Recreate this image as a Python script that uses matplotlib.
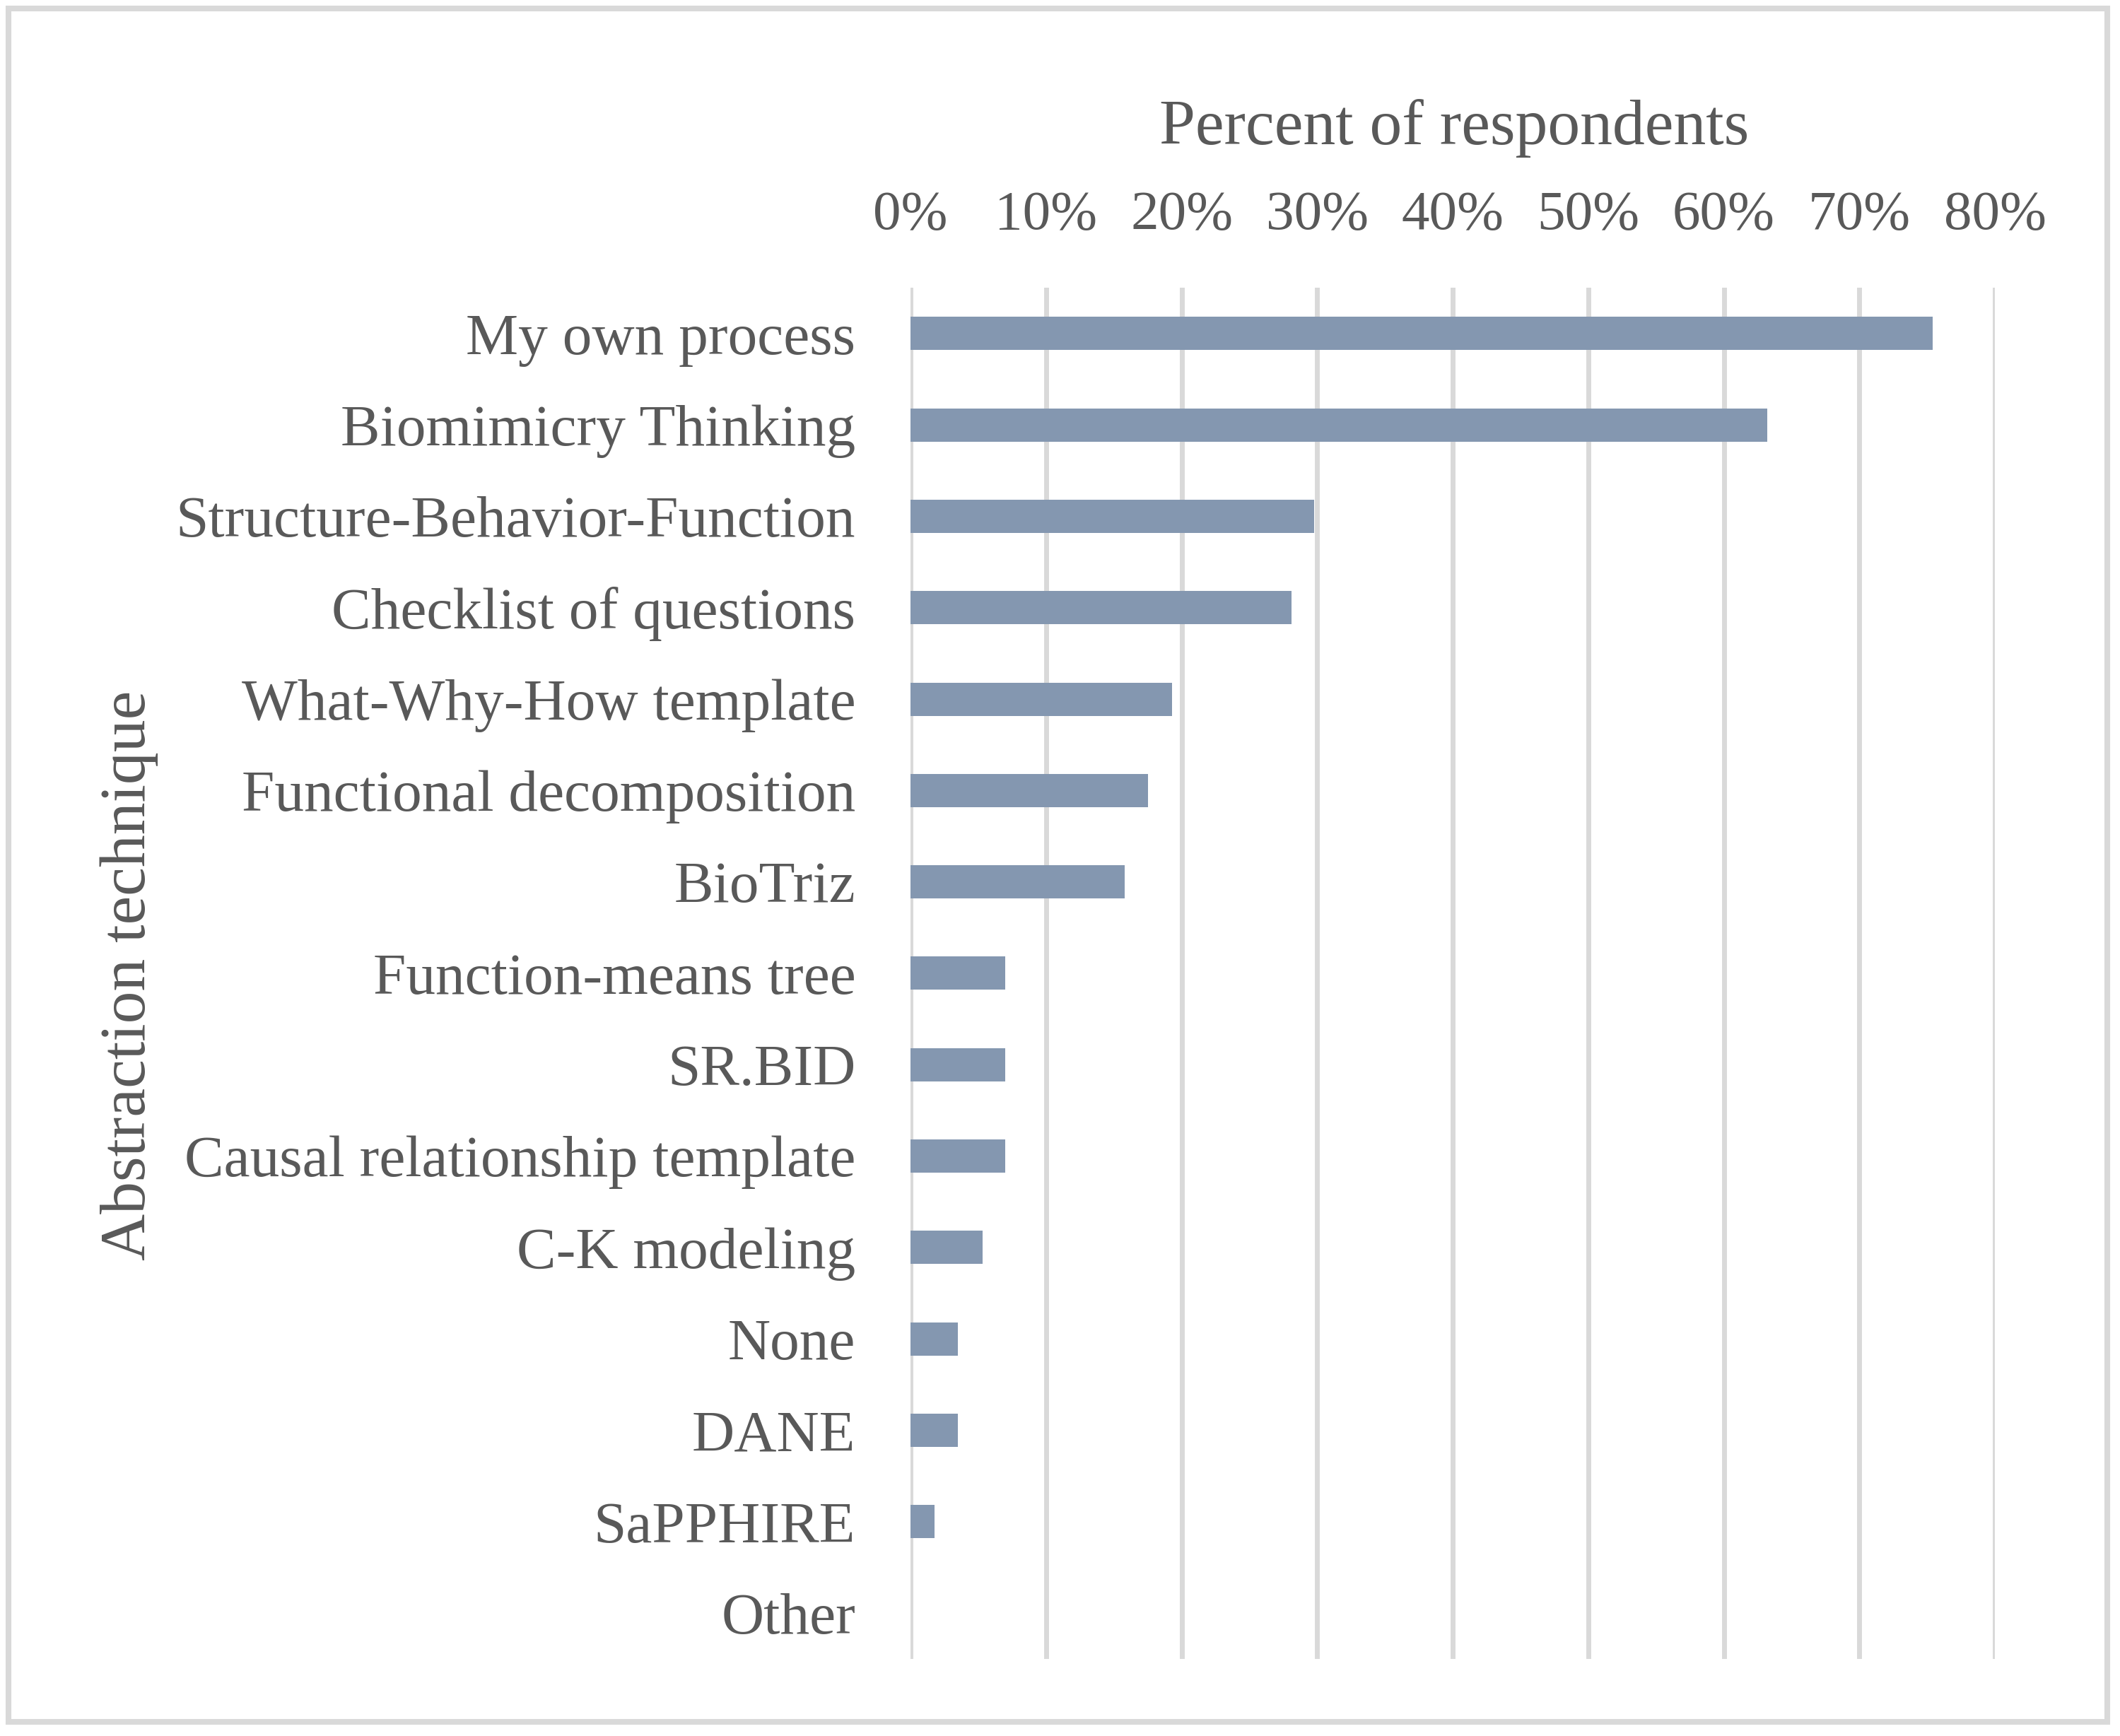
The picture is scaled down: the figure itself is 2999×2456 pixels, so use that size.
import matplotlib
matplotlib.use("Agg")
import matplotlib.pyplot as plt
from matplotlib.patches import Rectangle
from matplotlib.ticker import PercentFormatter

# survey answers, top to bottom (share of respondents)
techniques = ["My own process", "Biomimicry Thinking", "Structure-Behavior-Function",
              "Checklist of questions", "What-Why-How template", "Functional decomposition",
              "BioTriz", "Function-means tree", "SR.BID", "Causal relationship template",
              "C-K modeling", "None", "DANE", "SaPPHIRE", "Other"]
percent = [75.4, 63.2, 29.8, 28.1, 19.3, 17.5, 15.8, 7.0, 7.0, 7.0, 5.3, 3.5, 3.5, 1.75, 0.0]
xticks = [0, 10, 20, 30, 40, 50, 60, 70, 80]

text_col = "#595959"
bar_col = "#8497B0"
grid_col = "#D9D9D9"

plt.rcParams["font.family"] = ["Liberation Serif", "DejaVu Serif"]

fig = plt.figure(figsize=(14.995, 12.28), dpi=200)
ax = fig.add_axes([0.4295, 0.0445, 0.5115, 0.7897])

pos = list(range(len(techniques)))
ax.barh(pos, percent, height=0.364, color=bar_col, zorder=3)

ax.set_ylim(len(techniques) - 0.5, -0.5)
ax.set_xlim(0, 80)
ax.set_yticks(pos)
ax.set_yticklabels(techniques)
ax.set_xticks(xticks)
ax.xaxis.set_major_formatter(PercentFormatter(decimals=0))
ax.xaxis.tick_top()

ax.grid(axis="x", color=grid_col, linewidth=2.5, zorder=0)
for s in ax.spines.values():
    s.set_visible(False)
ax.tick_params(axis="both", length=0, colors=text_col)
ax.tick_params(axis="y", pad=28, labelsize=30)
ax.tick_params(axis="x", pad=24, labelsize=28.5)

fig.text(0.686, 0.926, "Percent of respondents", ha="center", va="center",
         fontsize=33, color=text_col)
fig.text(0.061, 0.438, "Abstraction technique", ha="center", va="center",
         rotation=90, fontsize=33, color=text_col)

# light grey frame round the whole chart
fig.patches.append(Rectangle((0.004, 0.0081), 0.990, 0.987, transform=fig.transFigure,
                             fill=False, edgecolor=grid_col, linewidth=2.9))

fig.savefig("out.png", dpi=200, facecolor="white")
